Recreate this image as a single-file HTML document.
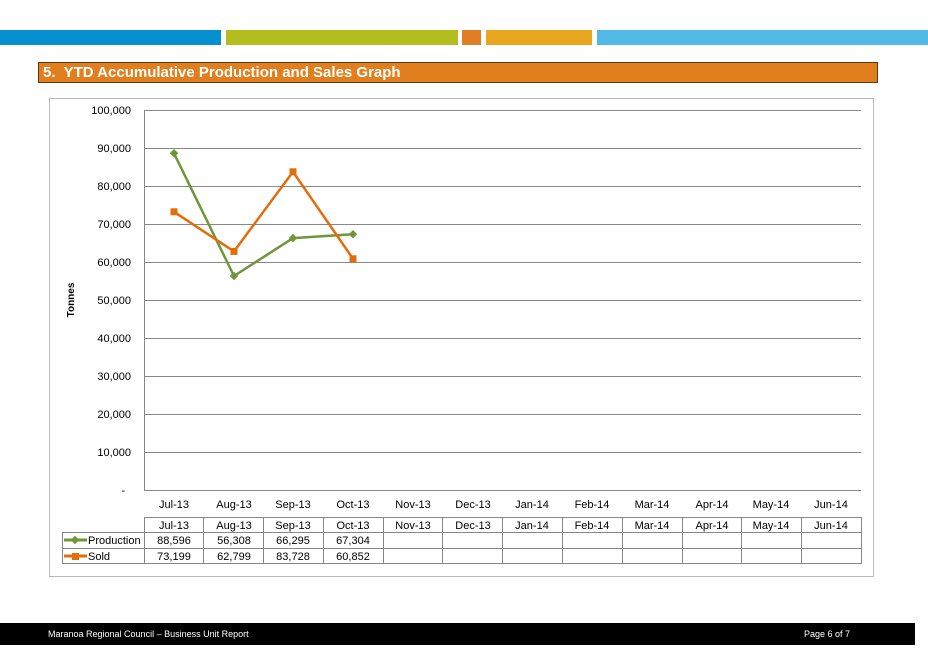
<!DOCTYPE html><html><head><style>body{margin:0;width:928px;height:656px;background:#fff;overflow:hidden;font-family:"Liberation Sans",Arial,sans-serif;position:relative}
.a{position:absolute}</style></head><body>
<div class="a" style="left:0;top:30px;width:221px;height:15px;background:#0790cf"></div>
<div class="a" style="left:226px;top:30px;width:232px;height:15px;background:#b4bd1e"></div>
<div class="a" style="left:462px;top:30px;width:19px;height:15px;background:#e17e25"></div>
<div class="a" style="left:486px;top:30px;width:106px;height:15px;background:#e8a71f"></div>
<div class="a" style="left:597px;top:30px;width:331px;height:15px;background:#52b9e6"></div>
<div class="a" style="left:38px;top:62px;width:834px;height:19px;background:#e17e1e;border:1px solid #5a3a14;color:#fff;font-weight:bold;font-size:15px;line-height:20px;padding-left:4px;box-sizing:content-box">5.&nbsp; YTD Accumulative Production and Sales Graph</div>
<svg class="a" style="left:0;top:0" width="928" height="656" font-family="Liberation Sans,Arial,sans-serif">
<rect x="49.5" y="98.5" width="824" height="478" fill="#fff" stroke="#bbb"/>
<g stroke="#888" stroke-width="1">
<line x1="144" y1="110.5" x2="861" y2="110.5"/><line x1="144" y1="148.5" x2="861" y2="148.5"/><line x1="144" y1="186.5" x2="861" y2="186.5"/><line x1="144" y1="224.5" x2="861" y2="224.5"/><line x1="144" y1="262.5" x2="861" y2="262.5"/><line x1="144" y1="300.5" x2="861" y2="300.5"/><line x1="144" y1="338.5" x2="861" y2="338.5"/><line x1="144" y1="376.5" x2="861" y2="376.5"/><line x1="144" y1="414.5" x2="861" y2="414.5"/><line x1="144" y1="452.5" x2="861" y2="452.5"/><line x1="144" y1="490.5" x2="861" y2="490.5"/>
<line x1="144.5" y1="110" x2="144.5" y2="490"/>
</g>
<g font-size="11" text-anchor="end" fill="#000">
<text x="131" y="114">100,000</text><text x="131" y="152">90,000</text><text x="131" y="190">80,000</text><text x="131" y="228">70,000</text><text x="131" y="266">60,000</text><text x="131" y="304">50,000</text><text x="131" y="342">40,000</text><text x="131" y="380">30,000</text><text x="131" y="418">20,000</text><text x="131" y="456">10,000</text><text x="125" y="494">-</text>
</g>
<text transform="translate(74,300) rotate(-90)" font-size="10" font-weight="bold" text-anchor="middle">Tonnes</text>
<g font-size="11" text-anchor="middle">
<text x="174" y="508">Jul-13</text><text x="234" y="508">Aug-13</text><text x="293" y="508">Sep-13</text><text x="353" y="508">Oct-13</text><text x="413" y="508">Nov-13</text><text x="473" y="508">Dec-13</text><text x="532" y="508">Jan-14</text><text x="592" y="508">Feb-14</text><text x="652" y="508">Mar-14</text><text x="712" y="508">Apr-14</text><text x="771" y="508">May-14</text><text x="831" y="508">Jun-14</text>
<text x="174" y="529">Jul-13</text><text x="234" y="529">Aug-13</text><text x="293" y="529">Sep-13</text><text x="353" y="529">Oct-13</text><text x="413" y="529">Nov-13</text><text x="473" y="529">Dec-13</text><text x="532" y="529">Jan-14</text><text x="592" y="529">Feb-14</text><text x="652" y="529">Mar-14</text><text x="712" y="529">Apr-14</text><text x="771" y="529">May-14</text><text x="831" y="529">Jun-14</text>
<text x="174" y="544">88,596</text><text x="234" y="544">56,308</text><text x="293" y="544">66,295</text><text x="353" y="544">67,304</text>
<text x="174" y="560">73,199</text><text x="234" y="560">62,799</text><text x="293" y="560">83,728</text><text x="353" y="560">60,852</text>
</g>
<g stroke="#888" fill="none">
<line x1="144" y1="517.5" x2="861" y2="517.5"/>
<line x1="62" y1="532.5" x2="861" y2="532.5"/>
<line x1="62" y1="548.5" x2="861" y2="548.5"/>
<line x1="62" y1="563.5" x2="861" y2="563.5"/>
<line x1="62.5" y1="532" x2="62.5" y2="564"/>
<line x1="144.5" y1="517" x2="144.5" y2="564"/><line x1="203.5" y1="517" x2="203.5" y2="564"/><line x1="263.5" y1="517" x2="263.5" y2="564"/><line x1="323.5" y1="517" x2="323.5" y2="564"/><line x1="383.5" y1="517" x2="383.5" y2="564"/><line x1="442.5" y1="517" x2="442.5" y2="564"/><line x1="502.5" y1="517" x2="502.5" y2="564"/><line x1="562.5" y1="517" x2="562.5" y2="564"/><line x1="622.5" y1="517" x2="622.5" y2="564"/><line x1="682.5" y1="517" x2="682.5" y2="564"/><line x1="741.5" y1="517" x2="741.5" y2="564"/><line x1="801.5" y1="517" x2="801.5" y2="564"/><line x1="861.5" y1="517" x2="861.5" y2="564"/>
</g>
<line x1="64" y1="540" x2="87" y2="540" stroke="#70963a" stroke-width="3"/><rect x="72" y="537" width="6" height="6" fill="#70963a" transform="rotate(45 75 540)"/>
<text x="88" y="544" font-size="11">Production</text>
<line x1="64" y1="556" x2="87" y2="556" stroke="#e46c0a" stroke-width="3"/><rect x="72" y="553" width="7" height="7" fill="#e46c0a"/>
<text x="88" y="560" font-size="11">Sold</text>
<polyline points="174,153.3 234,276 293,238.1 353,234.2" fill="none" stroke="#70963a" stroke-width="2.5"/>
<g fill="#70963a"><rect x="171" y="150.3" width="6" height="6" transform="rotate(45 174 153.3)"/><rect x="231" y="273" width="6" height="6" transform="rotate(45 234 276)"/><rect x="290" y="235.1" width="6" height="6" transform="rotate(45 293 238.1)"/><rect x="350" y="231.2" width="6" height="6" transform="rotate(45 353 234.2)"/></g>
<polyline points="174,211.8 234,251.4 293,171.8 353,258.8" fill="none" stroke="#e46c0a" stroke-width="2.5"/>
<g fill="#e46c0a"><rect x="170.5" y="208.3" width="7" height="7"/><rect x="230.5" y="247.9" width="7" height="7"/><rect x="289.5" y="168.3" width="7" height="7"/><rect x="349.5" y="255.3" width="7" height="7"/></g>
<rect x="0" y="623" width="915" height="22" fill="#000"/>
<text x="48" y="637" font-size="9" fill="#fff">Maranoa Regional Council – Business Unit Report</text>
<text x="850" y="637" font-size="9" fill="#fff" text-anchor="end">Page 6 of 7</text>
</svg>
</body></html>
